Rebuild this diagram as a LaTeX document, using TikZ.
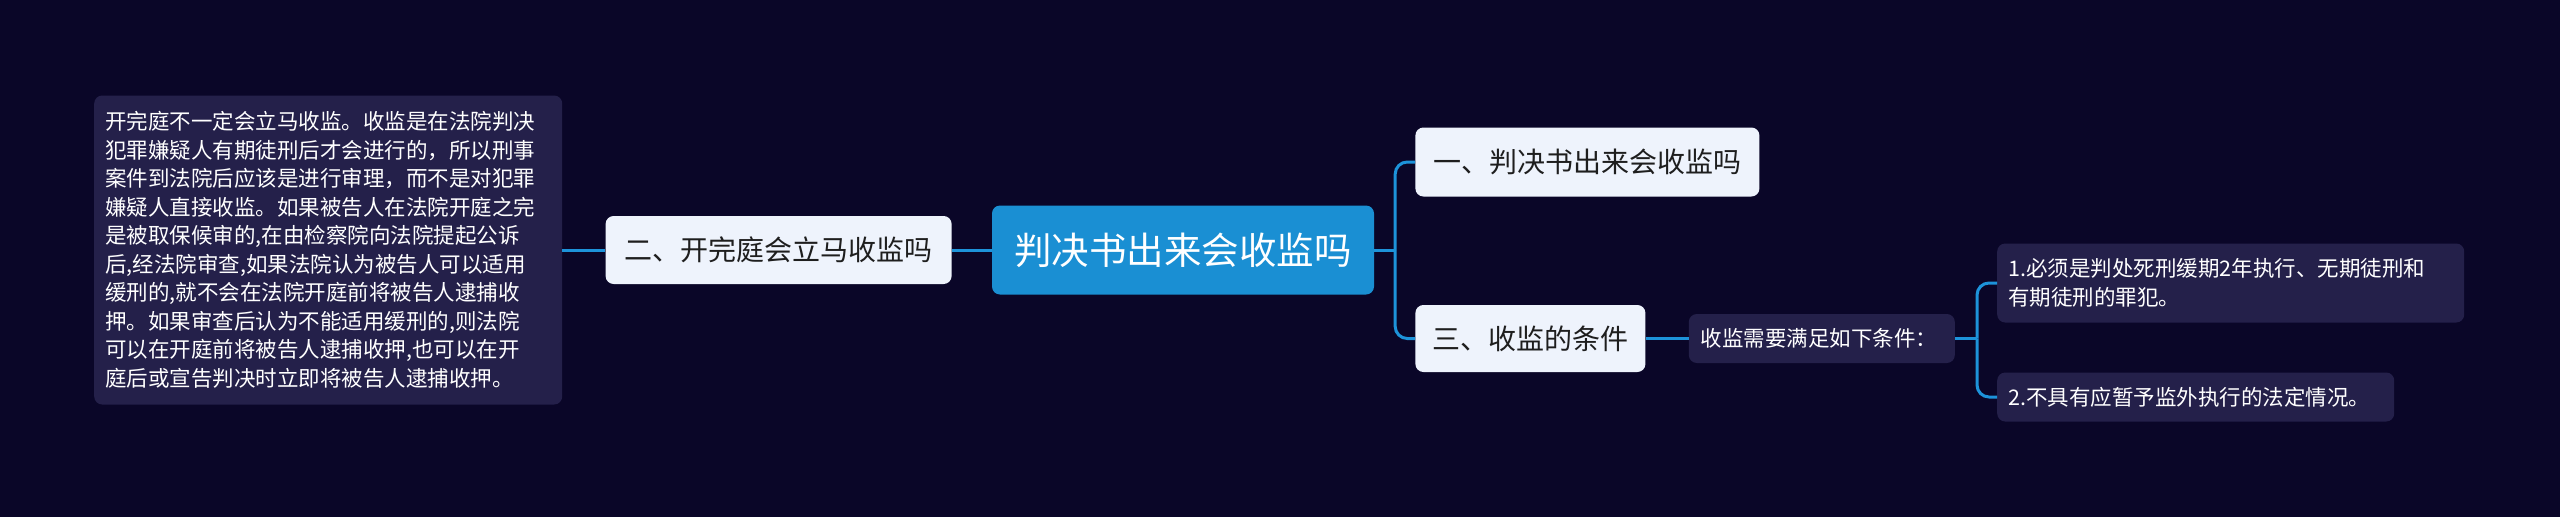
\documentclass[tikz,border=0pt]{standalone}
\usepackage{fontspec}
\newfontfamily\cjk{Noto Sans CJK SC}
\usetikzlibrary{positioning}
\definecolor{bg}{HTML}{0A0628}
\definecolor{rootblue}{HTML}{1A8FD3}
\definecolor{lightbox}{HTML}{EEF3FC}
\definecolor{darkbox}{HTML}{24204A}
\definecolor{linkblue}{HTML}{1D93DA}
\definecolor{ink}{HTML}{1E1E1E}

\begin{document}
\begin{tikzpicture}[x=1pt,y=-1pt,
  rootbox/.style={fill=rootblue,rounded corners=8pt,text=white,font=\cjk\fontsize{37.5}{44}\selectfont,minimum width=382pt,minimum height=89pt,inner sep=0pt},
  topicbox/.style={fill=lightbox,rounded corners=8pt,text=ink,font=\cjk\fontsize{28}{34}\selectfont,minimum height=68pt,inner sep=0pt},
  notebox/.style={fill=darkbox,rounded corners=8pt,text=white,font=\cjk\fontsize{21.5}{28.5}\selectfont,inner sep=0pt,align=left},
  link/.style={draw=linkblue,line width=3pt},
  fork/.style={link,rounded corners=12pt}]
\fill[bg] (0,0) rectangle (2560,517);
\node[rootbox](r) at (1183,250) {判决书出来会收监吗};
\node[topicbox,left=40pt of r,minimum width=346pt](n2) {二、开完庭会立马收监吗};
\node[notebox,left=43pt of n2,text width=446pt,inner xsep=11pt,minimum height=309pt](note) {开完庭不一定会立马收监。收监是在法院判决\\犯罪嫌疑人有期徒刑后才会进行的，所以刑事\\案件到法院后应该是进行审理，而不是对犯罪\\嫌疑人直接收监。如果被告人在法院开庭之完\\是被取保候审的,在由检察院向法院提起公诉\\后,经法院审查,如果法院认为被告人可以适用\\缓刑的,就不会在法院开庭前将被告人逮捕收\\押。如果审查后认为不能适用缓刑的,则法院\\可以在开庭前将被告人逮捕收押,也可以在开\\庭后或宣告判决时立即将被告人逮捕收押。};
\node[topicbox,right=41pt of r,yshift=88pt,minimum width=344pt,minimum height=69pt](t1) {一、判决书出来会收监吗};
\node[topicbox,right=41pt of r,yshift=-88.5pt,minimum width=230pt,minimum height=67pt](t3) {三、收监的条件};
\node[notebox,right=43pt of t3,text width=242pt,inner xsep=12pt,minimum height=49pt](c) {收监需要满足如下条件：};
\node[notebox,right=42pt of c,yshift=55.5pt,text width=445pt,inner xsep=11pt,minimum height=79pt](c1) {1.必须是判处死刑缓期2年执行、无期徒刑和\\有期徒刑的罪犯。};
\node[notebox,right=42pt of c,yshift=-58.5pt,text width=375pt,inner xsep=11pt,minimum height=49pt](c2) {2.不具有应暂予监外执行的法定情况。};
\coordinate[right=21pt of r](f1);
\coordinate[right=22pt of c](f2);
\draw[link] (note.east) -- (n2.west);
\draw[link] (n2.east) -- (r.west);
\draw[link] (r.east) -- (f1);
\draw[fork] (f1) |- (t1.west);
\draw[fork] (f1) |- (t3.west);
\draw[link] (t3.east) -- (c.west);
\draw[link] (c.east) -- (f2);
\draw[fork] (f2) |- (c1.west);
\draw[fork] (f2) |- (c2.west);
\end{tikzpicture}
\end{document}
